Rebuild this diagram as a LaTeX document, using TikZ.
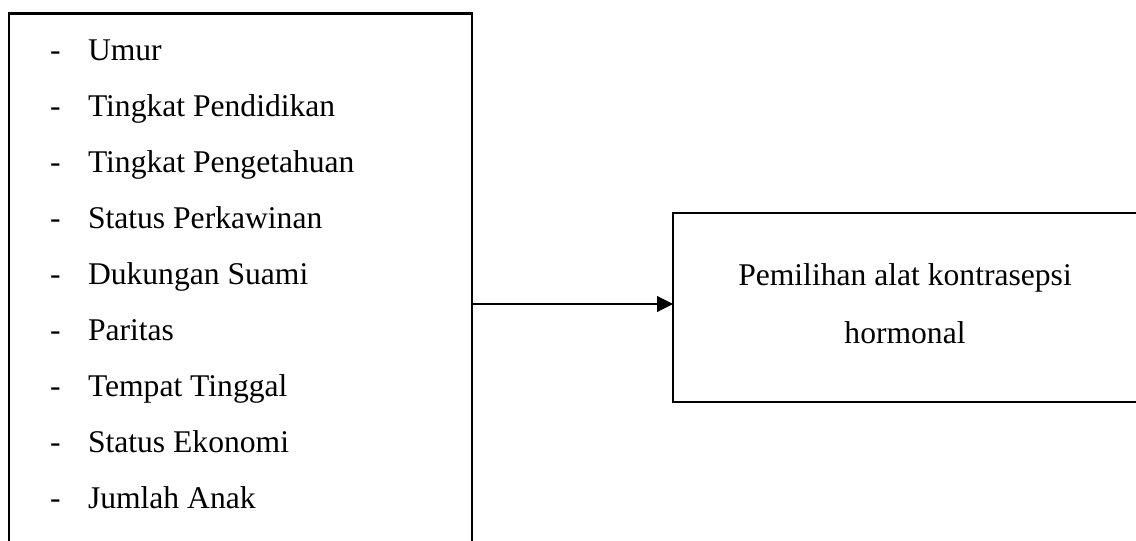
\documentclass[tikz,border=0pt]{standalone}
\usepackage{fontspec}
\setmainfont{Liberation Serif}
\usetikzlibrary{arrows.meta}
\begin{document}
\begin{tikzpicture}[x=1pt,y=-1pt,
  every node/.style={font=\fontsize{31.6}{36}\selectfont, inner sep=0pt, outer sep=0pt},
  frame/.style={line width=2.2pt, line join=miter},
  item/.style={anchor=base west},
  dashmark/.style={anchor=base west},
  outtext/.style={anchor=base},
  link/.style={line width=1.1pt, -{Triangle[length=16pt,width=16pt]}}]
\useasboundingbox (0,0) rectangle (1136,541);
% left frame (open at the bottom, runs off the page)
\node (factors) [minimum width=463pt, minimum height=529pt, anchor=north west] at (9,13.5) {};
\draw[frame] (factors.south west) -- (factors.north west) -- (factors.north east) -- (factors.south east);
% list of factors
\foreach \t [count=\i from 0] in {Umur,Tingkat Pendidikan,Tingkat Pengetahuan,Status Perkawinan,Dukungan Suami,Paritas,Tempat Tinggal,Status Ekonomi,Jumlah Anak}{
  \node[dashmark] (d\i) at (50,60+56*\i) {-};
  \node[item] (f\i) at (88,60+56*\i) {\t};
}
% right frame (open at the right side)
\node (outcome) [minimum width=465pt, minimum height=189pt, anchor=north west] at (673,213) {};
\draw[frame] (outcome.north east) -- (outcome.north west) -- (outcome.south west) -- (outcome.south east);
\node[outtext] (o1) at (905,285) {Pemilihan alat kontrasepsi};
\node[outtext] (o2) at (905,343) {hormonal};
% connector
\coordinate (start) at (factors.east |- 0,304);
\coordinate (stop) at (outcome.west |- 0,304);
\draw[link] (start) -- (stop);
\end{tikzpicture}
\end{document}
